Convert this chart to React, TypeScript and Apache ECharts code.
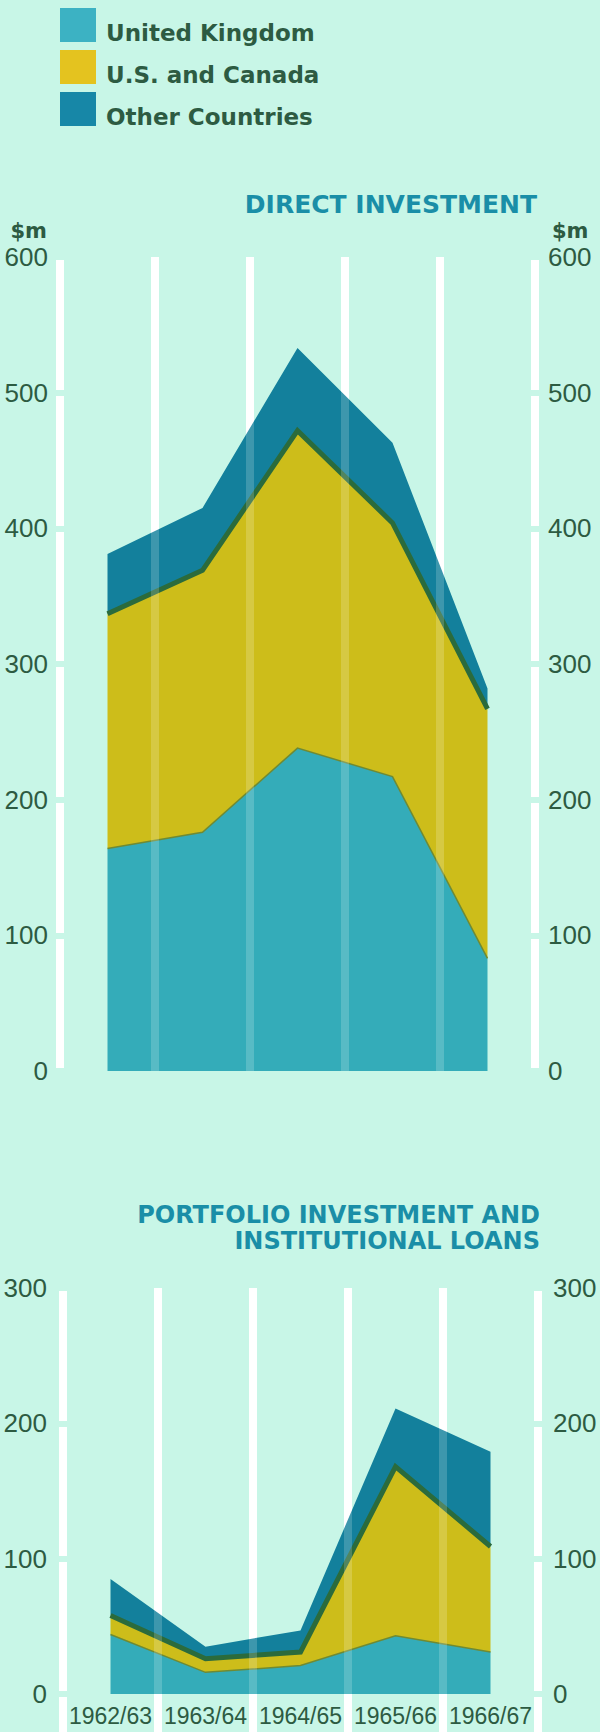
import { useEffect, useRef } from 'react';
import * as echarts from 'echarts';

const categories = ['1962/63', '1963/64', '1964/65', '1965/66', '1966/67'];
const seriesNames = ['United Kingdom', 'U.S. and Canada', 'Other Countries'];

// direct investment, $m
const directUK = [164, 176, 238, 217, 83];
const directUSCanada = [173, 193, 234, 187, 184];
const directOther = [44, 46, 61, 59, 15];
const directTicks = [0, 100, 200, 300, 400, 500, 600];

// portfolio investment and institutional loans, $m
const portfolioUK = [44, 16, 21, 43, 31];
const portfolioUSCanada = [14, 10, 10, 125, 78];
const portfolioOther = [27, 9, 16, 43, 70];
const portfolioTicks = [0, 100, 200, 300];

const bg = '#c8f6e7';
const dark = '#2d5b42';
const titleColor = '#1a8ea7';
const areaColors = ['#34acb9', '#cdbd1a', '#13809c'];
const legendColors = ['#3cb2c3', '#e4c31f', '#1787a7'];

export default function App() {
  const chartRef = useRef(null);

  useEffect(() => {
    const chart = echarts.init(chartRef.current, null, { renderer: 'svg' });

    const yAxis = (gridIndex, position, ticks, margin) => ({
      type: 'value',
      gridIndex,
      position,
      min: ticks[0],
      max: ticks[ticks.length - 1],
      interval: ticks[1] - ticks[0],
      offset: 4,
      z: 6,
      axisLine: { show: false },
      splitLine: { show: false },
      // short background-coloured ticks cut the white edge lines at each value
      axisTick: { show: true, inside: true, length: 8, lineStyle: { color: bg, width: 6 } },
      axisLabel: { margin, color: dark, fontFamily: 'Liberation Sans', fontSize: 26 },
    });

    const xAxis = (gridIndex, withLabels) => ({
      type: 'category',
      gridIndex,
      data: categories,
      boundaryGap: true,
      axisLine: { show: false },
      axisTick: withLabels
        ? { show: true, interval: 0, length: 40, lineStyle: { color: '#ffffff', width: 8 } }
        : { show: false },
      axisLabel: withLabels
        ? { show: true, interval: 0, margin: 10, color: dark, fontFamily: 'Liberation Sans', fontSize: 23 }
        : { show: false },
      splitLine: { show: true, interval: 0, lineStyle: { color: '#ffffff', width: 8 } },
    });

    // same lines again above the areas, faint, so they show through like the print
    const stripeAxis = (gridIndex) => ({
      type: 'category',
      gridIndex,
      data: categories,
      boundaryGap: true,
      z: 5,
      axisLine: { show: false },
      axisTick: { show: false },
      axisLabel: { show: false },
      splitLine: { show: true, interval: 0, lineStyle: { color: 'rgba(255,255,255,0.18)', width: 8 } },
    });

    const lineStyles = [
      { color: '#6f8a33', width: 1.5, join: 'miter' },
      { color: '#2b6b3c', width: 5, join: 'miter' },
      { width: 0, opacity: 0 },
    ];

    const stackSeries = (stack, xAxisIndex, yAxisIndex, values) =>
      values.map((data, i) => ({
        name: seriesNames[i],
        type: 'line',
        stack,
        xAxisIndex,
        yAxisIndex,
        data,
        z: 4 - i,
        symbol: 'none',
        silent: true,
        lineStyle: lineStyles[i],
        itemStyle: { color: areaColors[i] },
        areaStyle: { color: areaColors[i], opacity: 1 },
      }));

    const text = (str, x, y, align, size, fill) => ({
      type: 'text',
      x,
      y,
      style: { text: str, align, verticalAlign: 'middle', font: `bold ${size}px "DejaVu Sans"`, fill },
    });

    const option = {
      animation: false,
      backgroundColor: bg,
      legend: {
        orient: 'vertical',
        left: 60,
        top: 8,
        padding: 0,
        itemWidth: 36,
        itemHeight: 34,
        itemGap: 5.5,
        icon: 'rect',
        selectedMode: false,
        data: seriesNames.map((name, i) => ({ name, itemStyle: { color: legendColors[i], borderWidth: 0 } })),
        // the names sit on the squares' bottom edge, not their middle
        formatter: (name) => `{t|${name}}`,
        textStyle: {
          rich: {
            t: {
              fontFamily: 'DejaVu Sans',
              fontWeight: 'bold',
              fontSize: 23,
              color: dark,
              padding: [16, 0, 0, 5],
            },
          },
        },
      },
      graphic: [
        text('DIRECT INVESTMENT', 537, 204, 'right', 25, titleColor),
        text('PORTFOLIO INVESTMENT AND', 540, 1215, 'right', 24, titleColor),
        text('INSTITUTIONAL LOANS', 540, 1241, 'right', 24, titleColor),
        text('$m', 47, 231, 'right', 21, dark),
        text('$m', 552, 231, 'left', 21, dark),
      ],
      grid: [
        { left: 60, right: 65, top: 257, height: 814, outerBoundsMode: 'none' },
        { left: 63, right: 62, top: 1288, height: 406, outerBoundsMode: 'none' },
      ],
      xAxis: [xAxis(0, false), xAxis(1, true), stripeAxis(0), stripeAxis(1)],
      yAxis: [
        yAxis(0, 'left', directTicks, 8),
        yAxis(0, 'right', directTicks, 9),
        yAxis(1, 'left', portfolioTicks, 12),
        yAxis(1, 'right', portfolioTicks, 11),
      ],
      series: [
        ...stackSeries('direct', 0, 0, [directUK, directUSCanada, directOther]),
        ...stackSeries('portfolio', 1, 2, [portfolioUK, portfolioUSCanada, portfolioOther]),
      ],
    };

    chart.setOption(option);
    return () => {
      chart.dispose();
    };
  }, []);

  return (
    <div
      ref={chartRef}
      style={{ position: 'absolute', left: 0, top: 0, width: '600px', height: '1732px', background: bg }}
    />
  );
}
